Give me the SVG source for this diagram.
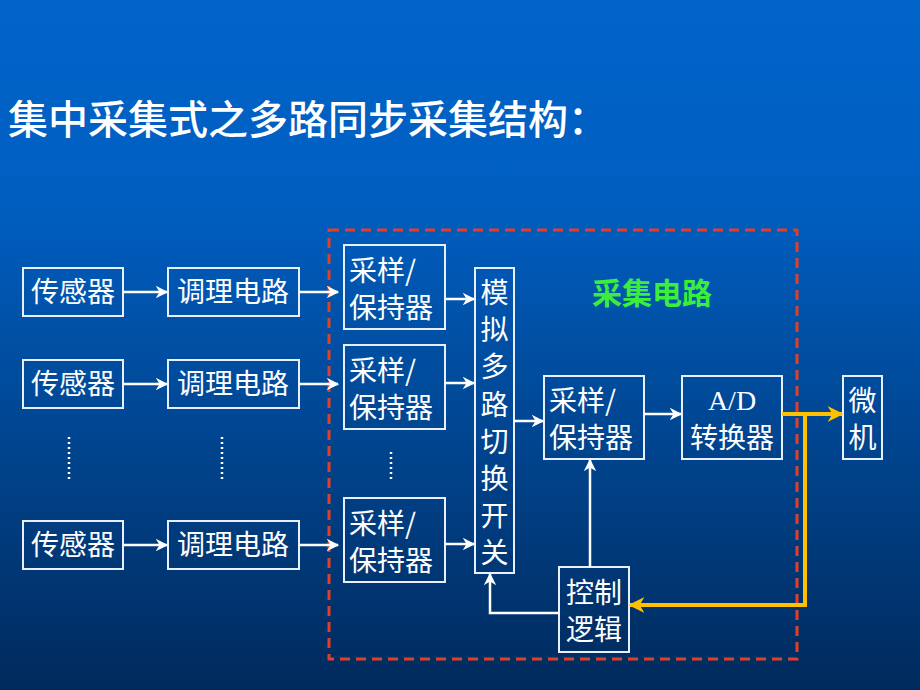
<svg xmlns="http://www.w3.org/2000/svg" width="920" height="690" viewBox="0 0 920 690">
<defs>
<linearGradient id="bg" x1="0" y1="0" x2="0" y2="1">
<stop offset="0" stop-color="#0064CA"/>
<stop offset="0.3" stop-color="#005EC0"/>
<stop offset="1" stop-color="#002A5C"/>
</linearGradient>
<marker id="wa" viewBox="0 0 10 10" refX="9" refY="5" markerWidth="5" markerHeight="5" orient="auto" markerUnits="strokeWidth">
<path d="M0,0 L10,5 L0,10 L3,5 Z" fill="#FFFFFF"/>
</marker>
<marker id="ya" viewBox="0 0 10 10" refX="9" refY="5" markerWidth="4" markerHeight="4" orient="auto" markerUnits="strokeWidth">
<path d="M0,0 L10,5 L0,10 L3,5 Z" fill="#FFC000"/>
</marker>
<style>
.box{fill:none;stroke:#E8F0FF;stroke-width:2}
.t{font-family:"Noto Sans CJK SC","Noto Sans",sans-serif;font-size:28px;fill:#FFFFFF}
.s{font-family:"Liberation Serif",serif;font-size:28px;fill:#FFFFFF}
.w{fill:none;stroke:#FFFFFF;stroke-width:2.5}
.y{fill:none;stroke:#FFC000;stroke-width:4}
.dots{fill:none;stroke:#FFFFFF;stroke-width:2.5;stroke-dasharray:2 3}
</style>
</defs>
<rect width="920" height="690" fill="url(#bg)"/>
<text x="8" y="134" font-family="Noto Sans CJK SC,sans-serif" font-size="40" font-weight="500" fill="#FFFFFF">集中采集式之多路同步采集结构：</text>
<rect x="329" y="230" width="468" height="429" fill="none" stroke="#E0402A" stroke-width="3" stroke-dasharray="10 6"/>
<text x="592" y="304" font-family="Noto Sans CJK SC,sans-serif" font-size="30" font-weight="bold" fill="#3CEE3C">采集电路</text>
<g id="sensor1"><rect class="box" x="23" y="268" width="100" height="48"/><text class="t" x="73" y="302" text-anchor="middle">传感器</text></g>
<g id="cond1"><rect class="box" x="168" y="268" width="131" height="48"/><text class="t" x="233" y="302" text-anchor="middle">调理电路</text></g>
<g id="sh1"><rect class="box" x="344" y="245" width="101" height="84"/><text class="t" x="349" y="281">采样/</text><text class="t" x="349" y="318">保持器</text></g>
<g id="sensor2"><rect class="box" x="23" y="360" width="100" height="48"/><text class="t" x="73" y="394" text-anchor="middle">传感器</text></g>
<g id="cond2"><rect class="box" x="168" y="360" width="131" height="48"/><text class="t" x="233" y="394" text-anchor="middle">调理电路</text></g>
<g id="sh2"><rect class="box" x="344" y="345" width="101" height="84"/><text class="t" x="349" y="381">采样/</text><text class="t" x="349" y="418">保持器</text></g>
<g id="sensor3"><rect class="box" x="23" y="521" width="100" height="48"/><text class="t" x="73" y="555" text-anchor="middle">传感器</text></g>
<g id="cond3"><rect class="box" x="168" y="521" width="131" height="48"/><text class="t" x="233" y="555" text-anchor="middle">调理电路</text></g>
<g id="sh3"><rect class="box" x="344" y="498" width="101" height="84"/><text class="t" x="349" y="534">采样/</text><text class="t" x="349" y="571">保持器</text></g>
<g id="mux"><rect class="box" x="475" y="268" width="39" height="305"/>
<text class="t" x="494.5" text-anchor="middle"><tspan x="494.5" y="303">模</tspan><tspan x="494.5" y="340">拟</tspan><tspan x="494.5" y="377">多</tspan><tspan x="494.5" y="415">路</tspan><tspan x="494.5" y="452">切</tspan><tspan x="494.5" y="489">换</tspan><tspan x="494.5" y="526">开</tspan><tspan x="494.5" y="563">关</tspan></text></g>
<g id="sh4"><rect class="box" x="544" y="376" width="100" height="83"/><text class="t" x="549" y="411">采样/</text><text class="t" x="549" y="448">保持器</text></g>
<g id="adc"><rect class="box" x="682" y="376" width="100" height="83"/><text class="s" x="732" y="410" text-anchor="middle">A/D</text><text class="t" x="732" y="448" text-anchor="middle">转换器</text></g>
<g id="mcu"><rect class="box" x="843" y="376" width="39" height="83"/><text class="t" x="862.5" y="411" text-anchor="middle">微</text><text class="t" x="862.5" y="448" text-anchor="middle">机</text></g>
<g id="ctrl"><rect class="box" x="559" y="567" width="70" height="85"/><text class="t" x="594" y="603" text-anchor="middle">控制</text><text class="t" x="594" y="640" text-anchor="middle">逻辑</text></g>
<g id="dots">
<line class="dots" x1="69" y1="437" x2="69" y2="481"/>
<line class="dots" x1="222" y1="437" x2="222" y2="481"/>
<line class="dots" x1="391" y1="452" x2="391" y2="481"/>
</g>
<g id="connectors">
<line class="w" x1="123" y1="292" x2="167" y2="292" marker-end="url(#wa)"/>
<line class="w" x1="299" y1="292" x2="338" y2="292" marker-end="url(#wa)"/>
<line class="w" x1="123" y1="384" x2="167" y2="384" marker-end="url(#wa)"/>
<line class="w" x1="299" y1="384" x2="338" y2="384" marker-end="url(#wa)"/>
<line class="w" x1="123" y1="545" x2="167" y2="545" marker-end="url(#wa)"/>
<line class="w" x1="299" y1="545" x2="338" y2="545" marker-end="url(#wa)"/>
<line class="w" x1="445" y1="299" x2="474" y2="299" marker-end="url(#wa)"/>
<line class="w" x1="445" y1="383" x2="474" y2="383" marker-end="url(#wa)"/>
<line class="w" x1="445" y1="544" x2="474" y2="544" marker-end="url(#wa)"/>
<line class="w" x1="514" y1="421" x2="543" y2="421" marker-end="url(#wa)"/>
<line class="w" x1="644" y1="414" x2="681" y2="414" marker-end="url(#wa)"/>
<line class="w" x1="590" y1="567" x2="590" y2="460" marker-end="url(#wa)"/>
<polyline class="w" points="559,613 490,613 490,574" marker-end="url(#wa)"/>
<line class="y" x1="782" y1="414" x2="842" y2="414" marker-end="url(#ya)"/>
<polyline class="y" points="805,414 805,605 630,605" marker-end="url(#ya)"/>
</g>
</svg>
